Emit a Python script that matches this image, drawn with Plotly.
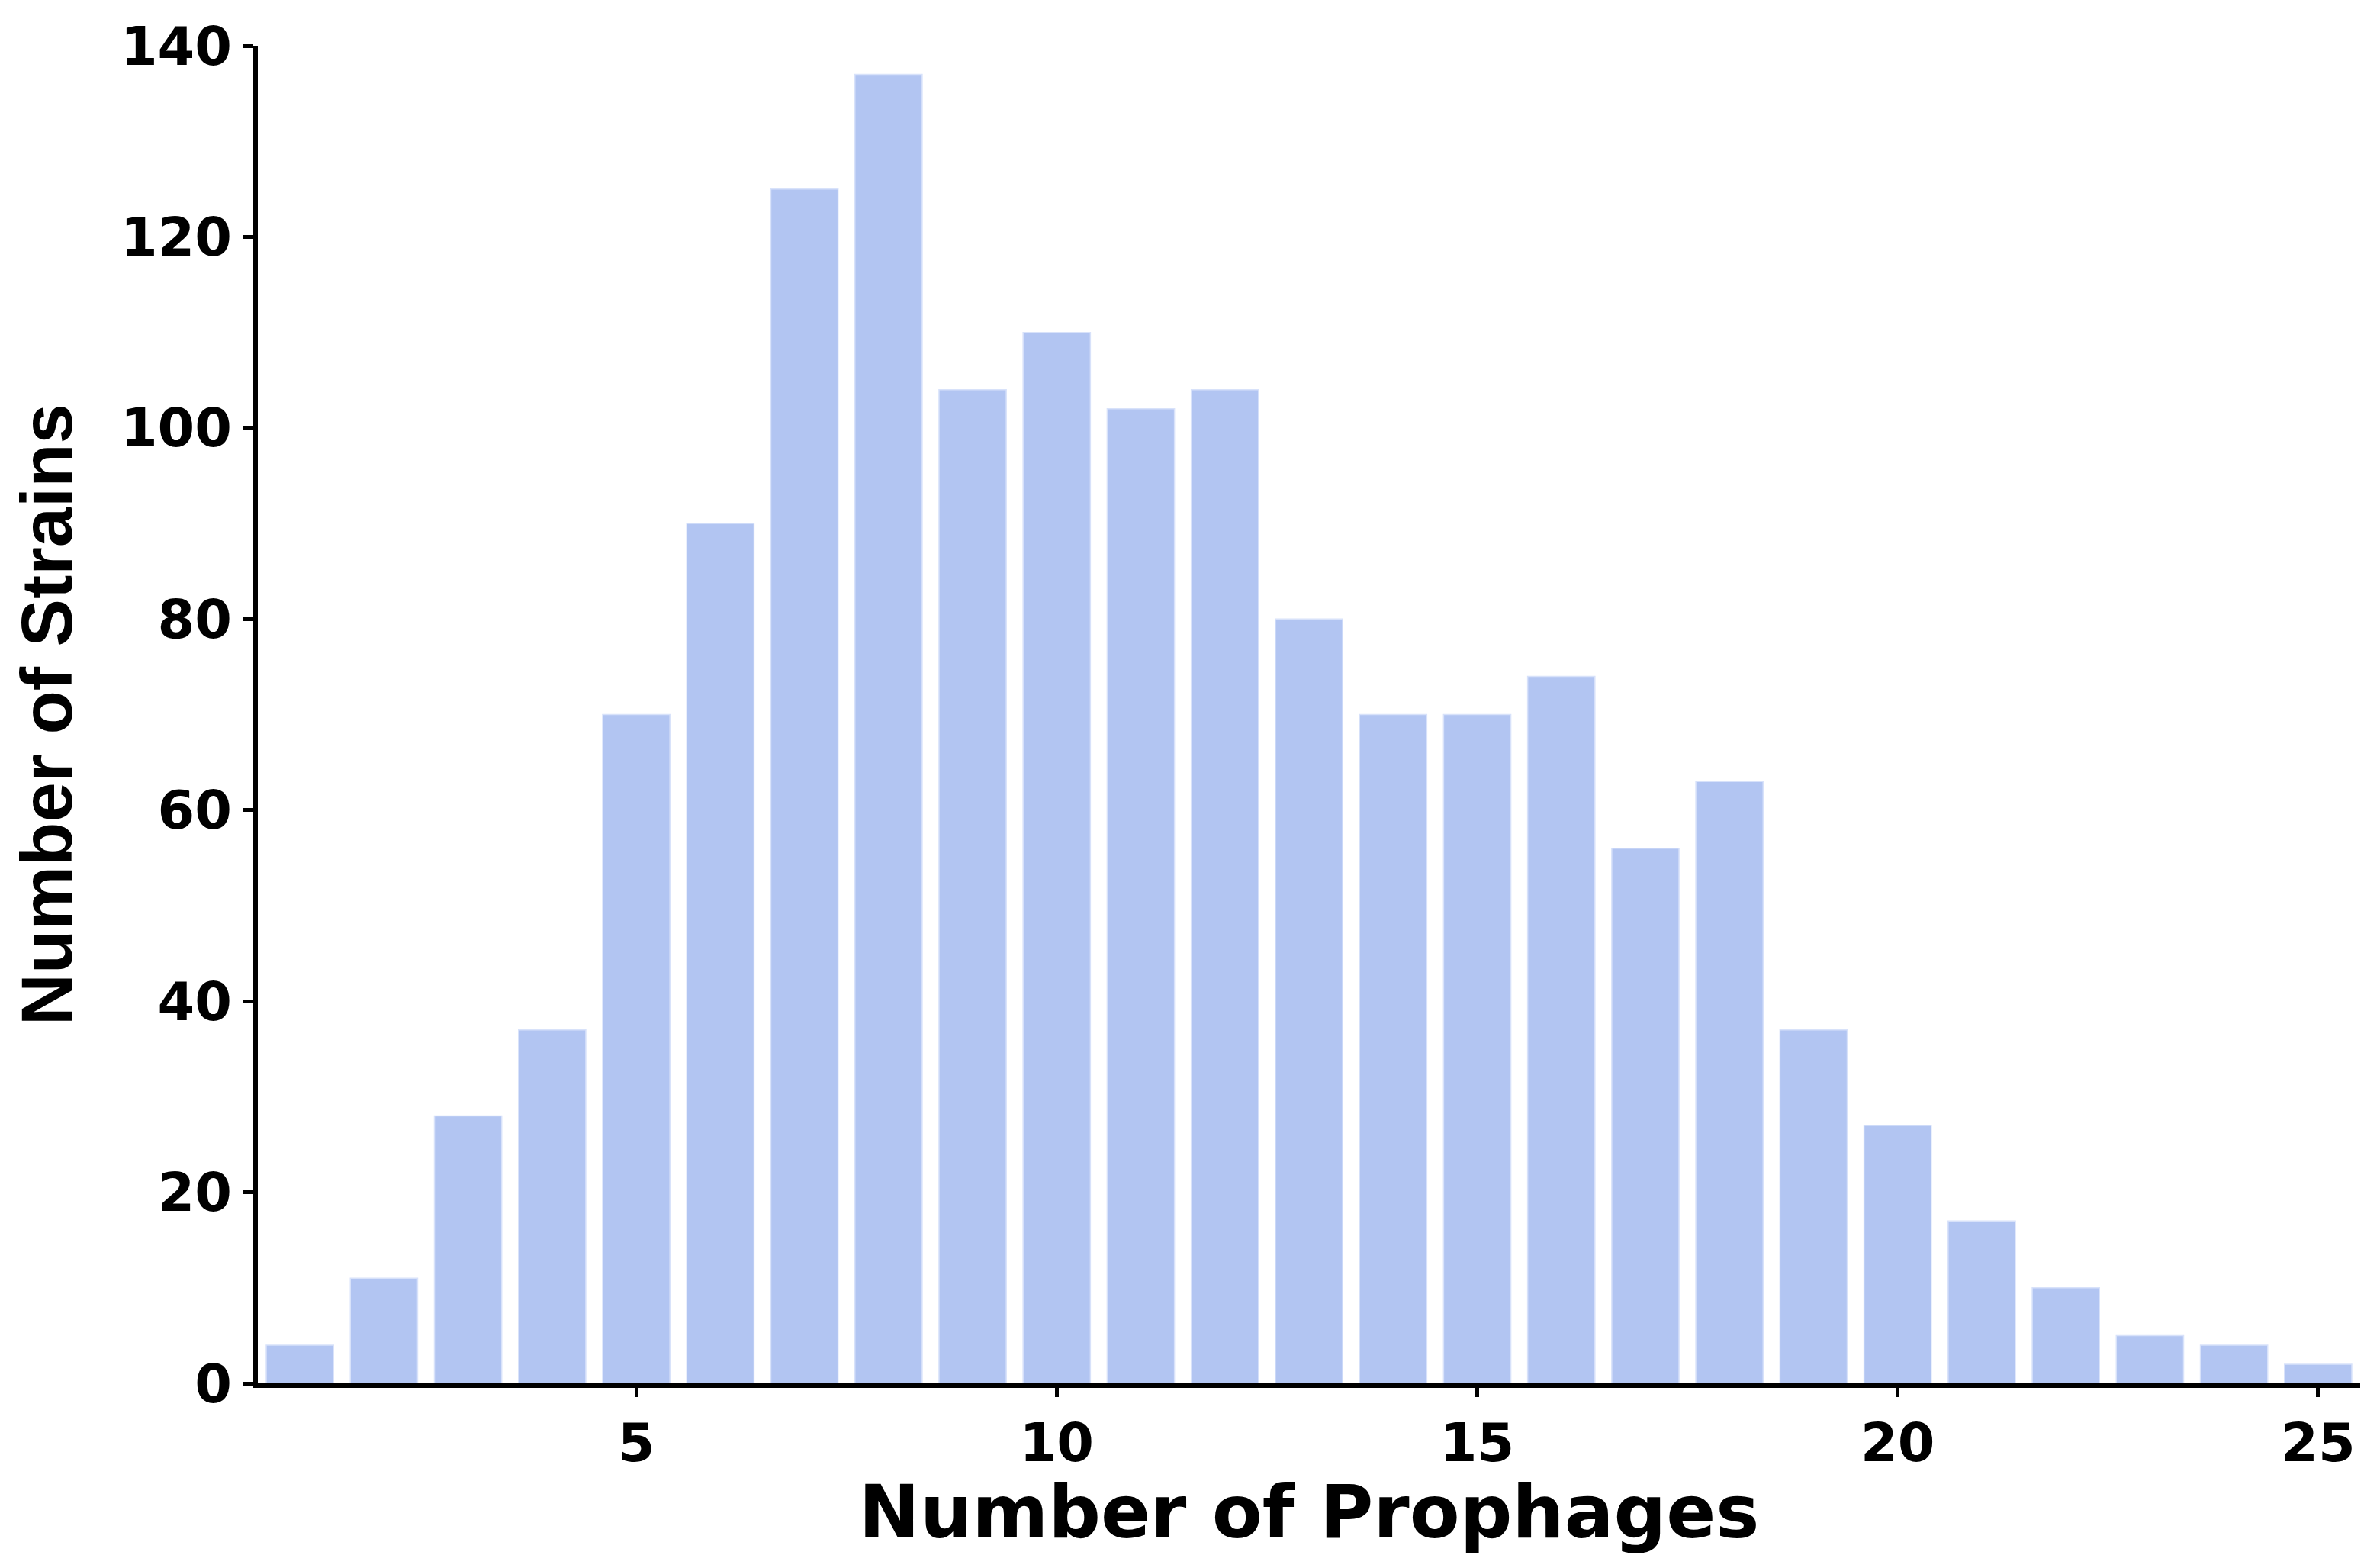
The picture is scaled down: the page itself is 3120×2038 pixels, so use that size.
import plotly.graph_objects as go

prophages = list(range(1, 26))
strains = [4, 11, 28, 37, 70, 90, 125, 137, 104, 110, 102, 104, 80,
           70, 70, 74, 56, 63, 37, 27, 17, 10, 5, 4, 2]
x_ticks = [5, 10, 15, 20, 25]
y_ticks = [0, 20, 40, 60, 80, 100, 120, 140]

bar_color = "#B2C5F2"
tick_font = dict(family="DejaVu Sans, Liberation Sans, Arial", size=70, color="black")

fig = go.Figure(
    go.Bar(
        x=prophages,
        y=strains,
        marker=dict(color=bar_color, line=dict(color="#D8E2FA", width=1.5)),
        width=0.8,
    )
)

fig.update_layout(
    width=3120,
    height=2038,
    margin=dict(l=338, r=26, t=60, b=225),
    paper_bgcolor="white",
    plot_bgcolor="white",
    showlegend=False,
    font=dict(family="DejaVu Sans, Liberation Sans, Arial", color="black"),
)

fig.update_xaxes(
    range=[0.5, 25.5],
    tickmode="array",
    tickvals=x_ticks,
    ticktext=[f"<b>{v}</b>" for v in x_ticks],
    tickfont=tick_font,
    ticks="outside",
    ticklen=12,
    tickwidth=5,
    tickcolor="black",
    showline=True,
    linewidth=6,
    linecolor="black",
    showgrid=False,
    zeroline=False,
    title=dict(
        text="<b>Number of Prophages</b>",
        font=dict(family="DejaVu Sans, Liberation Sans, Arial", size=96, color="black"),
        standoff=0,
    ),
)

fig.update_yaxes(
    range=[0, 140],
    tickmode="array",
    tickvals=y_ticks,
    ticktext=[f"<b>{v}</b>" for v in y_ticks],
    tickfont=tick_font,
    ticks="outside",
    ticklen=14,
    tickwidth=5,
    tickcolor="black",
    showline=True,
    linewidth=6,
    linecolor="black",
    showgrid=False,
    zeroline=False,
    title=dict(
        text="<b>Number of Strains</b>",
        font=dict(family="Liberation Sans Narrow, Arial Narrow, Liberation Sans, Arial", size=94, color="black"),
        standoff=34,
    ),
)

fig.write_html("out.html", config={"displayModeBar": False},
               post_script="document.body.style.margin='0';")
